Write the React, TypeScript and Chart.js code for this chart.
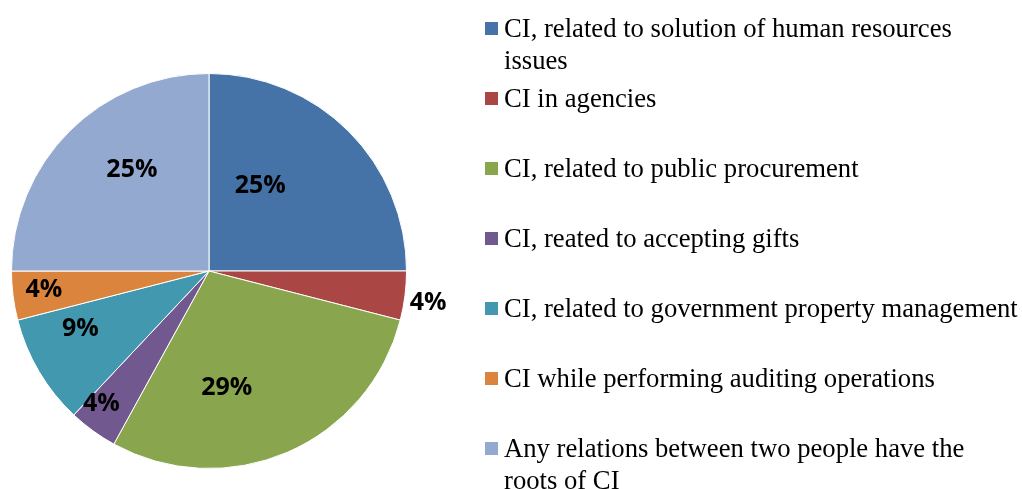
import React, { useEffect, useRef } from "react";
import { Chart, registerables } from "chart.js";

Chart.register(...registerables);

const categories = [
  "CI, related to solution of human resources issues",
  "CI in agencies",
  "CI, related to public procurement",
  "CI, reated to accepting gifts",
  "CI, related to government property management",
  "CI while performing auditing operations",
  "Any relations between two people have the roots of CI",
];
const values = [25, 4, 29, 4, 9, 4, 25];
const colors = ["#4572A7", "#AA4643", "#89A54E", "#71588F", "#4198AF", "#DB843D", "#93A9CF"];
const legendLines = [
  ["CI, related to solution of human resources", "issues"],
  ["CI in agencies"],
  ["CI, related to public procurement"],
  ["CI, reated to accepting gifts"],
  ["CI, related to government property management"],
  ["CI while performing auditing operations"],
  ["Any relations between two people have the", "roots of CI"],
];
// label placement within each slice: fraction of slice angle, fraction of radius
const labelAngleFrac = [0.34, 0.54, 0.64, 0.73, 0.72, 0.59, 0.59];
const labelRadiusFrac = [0.51, 1.12, 0.59, 0.86, 0.71, 0.84, 0.65];

const LABEL_FONT_SIZE = 25;

const pctLabelPlugin = {
  id: "pctLabels",
  afterDatasetsDraw(chart: any) {
    const ctx = chart.ctx;
    const meta = chart.getDatasetMeta(0);
    const data = chart.data.datasets[0].data as number[];
    const total = data.reduce((a, b) => a + b, 0);
    ctx.save();
    ctx.font = `bold ${LABEL_FONT_SIZE}px "Open Sans", Lato, sans-serif`;
    ctx.fillStyle = "#000";
    ctx.textAlign = "center";
    ctx.textBaseline = "alphabetic";
    meta.data.forEach((arc: any, i: number) => {
      const p = arc.getProps(["x", "y", "startAngle", "endAngle", "outerRadius"], true);
      const a = p.startAngle + labelAngleFrac[i] * (p.endAngle - p.startAngle);
      const r = p.outerRadius * labelRadiusFrac[i];
      const cx = p.x + Math.cos(a) * r;
      const cy = p.y + Math.sin(a) * r;
      const txt = Math.round((data[i] / total) * 100) + "%";
      ctx.fillText(txt, cx, cy + LABEL_FONT_SIZE * 0.36);
    });
    ctx.restore();
  },
};

export default function App() {
  const canvasRef = useRef<HTMLCanvasElement | null>(null);

  useEffect(() => {
    if (!canvasRef.current) return;
    const chart = new Chart(canvasRef.current, {
      type: "pie",
      data: {
        labels: categories,
        datasets: [
          {
            data: values,
            backgroundColor: colors,
            borderColor: "#ffffff",
            borderWidth: 1,
          },
        ],
      },
      options: {
        responsive: false,
        animation: false,
        devicePixelRatio: 1,
        layout: { padding: { left: 11, top: 73, right: 615, bottom: 20 } },
        plugins: {
          legend: { display: false },
          tooltip: { enabled: false },
        },
      },
      plugins: [pctLabelPlugin],
    });
    return () => chart.destroy();
  }, []);

  const fontSize = 26.67;
  const lineH = 32;
  return (
    <div style={{ position: "absolute", left: 0, top: 0, width: 1022, height: 489, overflow: "hidden", background: "#fff" }}>
      <canvas ref={canvasRef} width={1022} height={489} style={{ position: "absolute", left: 0, top: 0, width: 1022, height: 489 }} />
      {legendLines.map((lines, i) => {
        const centerY = 28 + 70 * i;
        return (
          <div key={i}>
            <div
              style={{
                position: "absolute",
                left: 485,
                top: centerY - 6.5,
                width: 13,
                height: 13,
                background: colors[i],
              }}
            />
            <div
              style={{
                position: "absolute",
                left: 504,
                top: centerY - 16,
                fontFamily: '"Liberation Serif", "Times New Roman", serif',
                fontSize,
                lineHeight: lineH + "px",
                color: "#000",
                whiteSpace: "nowrap",
              }}
            >
              {lines.map((l, j) => (
                <div key={j}>{l}</div>
              ))}
            </div>
          </div>
        );
      })}
    </div>
  );
}
